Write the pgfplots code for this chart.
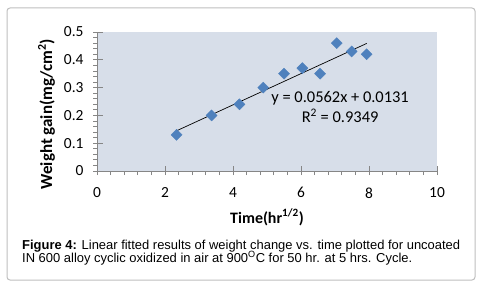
\documentclass[border=0pt]{standalone}
\usepackage{pgfplots}
\pgfplotsset{compat=1.18}
\usepackage{fontspec}
\setmainfont{Liberation Sans}
\newfontfamily\calfont{Carlito}
\definecolor{bgplot}{RGB}{215,222,233}
\definecolor{mblue}{RGB}{79,129,189}
\definecolor{axgray}{RGB}{134,134,134}
\definecolor{framegray}{RGB}{190,190,190}
\begin{document}
\begin{tikzpicture}[x=1bp,y=1bp]
\path[use as bounding box] (0,0) rectangle (490,288);
\draw[framegray, line width=1bp, rounded corners=3bp] (7,8) rectangle (475,280);
\begin{axis}[
  at={(97bp,117bp)}, anchor=south west,
  scale only axis, width=340bp, height=139bp,
  xmin=0, xmax=10, ymin=0, ymax=0.5,
  axis lines*=left,
  axis line style={axgray, line width=0.8bp},
  axis background/.style={fill=bgplot},
  xtick={0,2,4,6,8,10}, ytick={0,0.1,0.2,0.3,0.4,0.5},
  minor x tick num=4, minor y tick num=4,
  tick align=outside,
  major tick length=4bp, minor tick length=4bp,
  tick style={axgray, line width=0.8bp},
  extra x ticks={2,4,6,8,10}, extra x tick labels={},
  extra x tick style={tick align=inside, major tick length=5bp, grid=none},
  extra y ticks={0.1,0.2,0.3,0.4,0.5}, extra y tick labels={},
  extra y tick style={tick align=inside, major tick length=6bp, grid=none},
  /pgf/number format/assume math mode=true,
  /pgf/number format/fixed,
  ticklabel style={font=\calfont\fontsize{15.5}{18}\selectfont, text=black},
  yticklabel style={xshift=-6bp},
  xticklabel style={yshift=-9bp},
  xlabel={\textbf{Time(hr\textsuperscript{1/2})}},
  ylabel={\textbf{Weight gain(mg/cm\textsuperscript{2})}},
  label style={font=\calfont\fontsize{16}{19}\selectfont},
  xlabel style={at={(axis description cs:0.5,0)}, anchor=base, yshift=-52bp},
  ylabel style={at={(ticklabel cs:0.41)}, font=\calfont\fontsize{17}{20}\selectfont},
  ylabel shift=-2bp,
  clip=false,
]
\addplot[only marks, mark=square*, mark size=3.9bp, mark options={rotate=45, fill=mblue, draw=mblue}]
  coordinates {(2.34,0.13) (3.37,0.20) (4.19,0.24) (4.89,0.30) (5.50,0.35) (6.04,0.37) (6.56,0.35) (7.05,0.46) (7.49,0.43) (7.93,0.42)};
\addplot[black, line width=0.7bp] coordinates {(2.34,0.1446) (7.93,0.4588)};
\node[anchor=base, font=\calfont\fontsize{16.5}{19}\selectfont] at (axis cs:7.15,0.247) {y = 0.0562x + 0.0131};
\node[anchor=base, font=\calfont\fontsize{16.5}{19}\selectfont] at (axis cs:7.15,0.1745) {R\textsuperscript{2} = 0.9349};
\end{axis}
\node[anchor=base west, font=\fontsize{13}{15}\selectfont, inner sep=0] at (22,38.5) {\textbf{Figure 4:} Linear fitted results of weight change vs. time plotted for uncoated};
\node[anchor=base west, font=\fontsize{13}{15}\selectfont, inner sep=0] at (22,26) {IN 600 alloy cyclic oxidized in air at 900\textsuperscript{O}C for 50 hr. at 5 hrs. Cycle.};
\end{tikzpicture}
\end{document}
